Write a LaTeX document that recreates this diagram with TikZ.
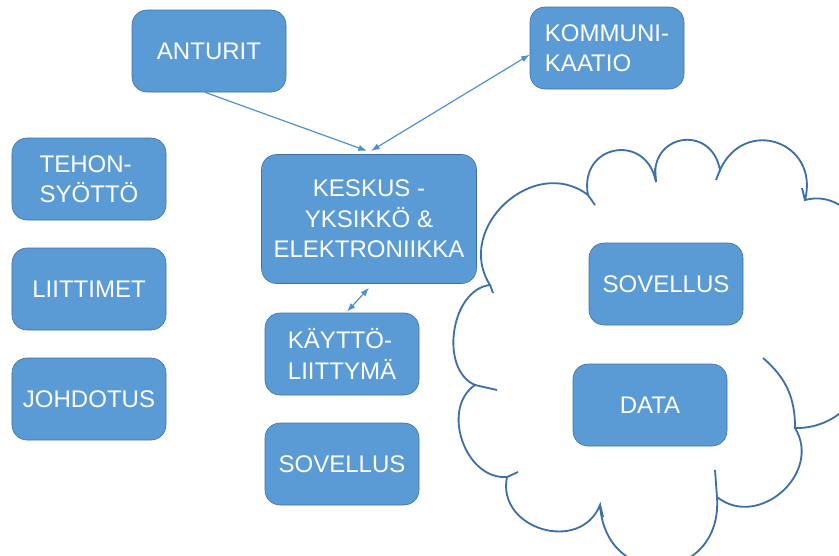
\documentclass[tikz,border=0pt]{standalone}
\usepackage{fontspec}
\setmainfont{Liberation Sans}
\usetikzlibrary{arrows.meta}
\definecolor{boxfill}{RGB}{91,155,213}
\definecolor{boxedge}{RGB}{65,113,156}
\definecolor{arrowblue}{RGB}{72,143,214}
\definecolor{cloudedge}{RGB}{62,112,168}

\begin{document}
\begin{tikzpicture}[x=0.3mm, y=-0.3mm, node distance=33mm]
\tikzstyle{block} = [rectangle, rounded corners=4.5mm, draw=boxedge, line width=0.5pt, fill=boxfill, text=white, minimum width=46.2mm, minimum height=24.6mm, inner sep=0pt, align=center, font=\fontsize{20.5}{26}\selectfont]
\tikzstyle{arrow} = [draw=arrowblue, line width=0.35mm, -{Latex[length=2.6mm, width=1.9mm]}]
\tikzstyle{twoway} = [arrow, {Latex[length=2.6mm, width=1.9mm]}-{Latex[length=2.6mm, width=1.9mm]}]
\tikzstyle{cloudline} = [draw=cloudedge, line width=0.55mm]

\useasboundingbox (0,0) rectangle (839,555);

% pilvi
\begin{scope}
\clip (0,0) rectangle (839,555);
\draw [cloudline, fill=white] (490,285) to[bend left=80, looseness=1.3] (588,195)
  to[bend left=90, looseness=1.9] (656,182) to[bend left=90, looseness=1.9] (720,170)
  to[bend left=85, looseness=1.7] (805,200) to[bend left=80, looseness=1.3] (848,292)
  to[bend left=70, looseness=1.2] (795,428) to[bend left=80, looseness=1.3] (717,497)
  to[bend left=90, looseness=1.9] (600,505) to[bend left=85, looseness=1.4] (507,477)
  to[bend left=75, looseness=1.1] (475,385) to[bend left=75] cycle;
% pilven sisakaaret
\draw [cloudline] (763,358) to[bend left=25] (795,428);
\foreach \a/\b in {{(588,195)/(595,205)}, {(656,182)/(655,168)}, {(720,170)/(716,180)},
  {(805,200)/(802,188)}, {(717,497)/(715,470)}, {(600,505)/(603,517)},
  {(507,477)/(518,472)}, {(475,385)/(497,390)}, {(490,285)/(493,293)}}
  \draw [cloudline] \a -- \b;
\end{scope}

\node (anturit) [block] at (209,51) {ANTURIT};
\node (kommunikaatio) [block, align=left] at (607,48) {KOMMUNI-\\KAATIO};
\node (keskus) [block, minimum width=64.5mm, minimum height=38.7mm] at (369,219) {KESKUS -\\YKSIKKÖ \&\\ELEKTRONIIKKA};
\node (kaytto) [block, align=left] at (342,354) {KÄYTTÖ-\\LIITTYMÄ};
\node (sovellus) [block, below of=kaytto] {SOVELLUS};

\node (tehonsyotto) [block, align=left] at (89,179) {TEHON-\\SYÖTTÖ};
\node (liittimet) [block, below of=tehonsyotto] {LIITTIMET};
\node (johdotus) [block, below of=liittimet] {JOHDOTUS};

\node (pilvisovellus) [block] at (666,284) {SOVELLUS};
\node (data) [block] at (650,405) {DATA};

\draw [arrow] ([xshift=-1.2mm]anturit.south) -- ([xshift=-0.6mm, yshift=1mm]keskus.north);
\draw [twoway] ([xshift=0.6mm, yshift=1mm]keskus.north) -- ([yshift=-2mm]kommunikaatio.west);
\draw [twoway] ([yshift=-1.2mm]keskus.south) -- ([xshift=1.5mm, yshift=0.3mm]kaytto.north);
\end{tikzpicture}
\end{document}
